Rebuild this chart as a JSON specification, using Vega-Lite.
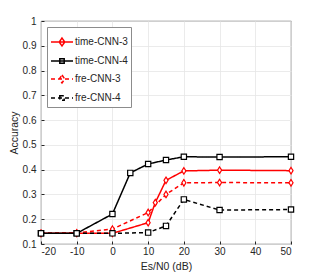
{
  "$schema": "https://vega.github.io/schema/vega-lite/v6.json",
  "width": 250,
  "height": 223,
  "autosize": "none",
  "padding": {"left": 41, "top": 21, "right": 30, "bottom": 32},
  "background": "white",
  "config": {
    "font": "Liberation Sans",
    "view": {"stroke": "#262626", "strokeWidth": 0.8},
    "axis": {
      "grid": true, "gridColor": "#e6e6e6", "gridWidth": 0.8,
      "domain": false, "tickColor": "#262626", "tickSize": -3,
      "labelColor": "#262626", "labelFontSize": 10, "titleColor": "#262626",
      "titleFontSize": 10.5, "titleFontWeight": "normal"
    }
  },
  "data": {"values": [
    {"snr": -20, "acc": 0.143, "series": "time-CNN-3", "net": 3},
    {"snr": -10, "acc": 0.143, "series": "time-CNN-3", "net": 3},
    {"snr": 0, "acc": 0.143, "series": "time-CNN-3", "net": 3},
    {"snr": 10, "acc": 0.186, "series": "time-CNN-3", "net": 3},
    {"snr": 12, "acc": 0.267, "series": "time-CNN-3", "net": 3},
    {"snr": 15, "acc": 0.357, "series": "time-CNN-3", "net": 3},
    {"snr": 20, "acc": 0.395, "series": "time-CNN-3", "net": 3},
    {"snr": 30, "acc": 0.398, "series": "time-CNN-3", "net": 3},
    {"snr": 50, "acc": 0.396, "series": "time-CNN-3", "net": 3},
    {"snr": -20, "acc": 0.143, "series": "time-CNN-4", "net": 4},
    {"snr": -10, "acc": 0.143, "series": "time-CNN-4", "net": 4},
    {"snr": 0, "acc": 0.221, "series": "time-CNN-4", "net": 4},
    {"snr": 5, "acc": 0.387, "series": "time-CNN-4", "net": 4},
    {"snr": 10, "acc": 0.423, "series": "time-CNN-4", "net": 4},
    {"snr": 15, "acc": 0.439, "series": "time-CNN-4", "net": 4},
    {"snr": 20, "acc": 0.452, "series": "time-CNN-4", "net": 4},
    {"snr": 30, "acc": 0.451, "series": "time-CNN-4", "net": 4},
    {"snr": 50, "acc": 0.452, "series": "time-CNN-4", "net": 4},
    {"snr": -20, "acc": 0.143, "series": "fre-CNN-3", "net": 3},
    {"snr": -10, "acc": 0.145, "series": "fre-CNN-3", "net": 3},
    {"snr": 0, "acc": 0.160, "series": "fre-CNN-3", "net": 3},
    {"snr": 10, "acc": 0.227, "series": "fre-CNN-3", "net": 3},
    {"snr": 15, "acc": 0.300, "series": "fre-CNN-3", "net": 3},
    {"snr": 20, "acc": 0.347, "series": "fre-CNN-3", "net": 3},
    {"snr": 30, "acc": 0.348, "series": "fre-CNN-3", "net": 3},
    {"snr": 50, "acc": 0.347, "series": "fre-CNN-3", "net": 3},
    {"snr": -20, "acc": 0.143, "series": "fre-CNN-4", "net": 4},
    {"snr": -10, "acc": 0.143, "series": "fre-CNN-4", "net": 4},
    {"snr": 0, "acc": 0.143, "series": "fre-CNN-4", "net": 4},
    {"snr": 10, "acc": 0.146, "series": "fre-CNN-4", "net": 4},
    {"snr": 15, "acc": 0.173, "series": "fre-CNN-4", "net": 4},
    {"snr": 20, "acc": 0.280, "series": "fre-CNN-4", "net": 4},
    {"snr": 30, "acc": 0.237, "series": "fre-CNN-4", "net": 4},
    {"snr": 50, "acc": 0.239, "series": "fre-CNN-4", "net": 4}
  ]},
  "encoding": {
    "x": {"field": "snr", "type": "quantitative",
      "scale": {"domain": [-20, 50], "nice": false},
      "axis": {"values": [-20, -10, 0, 10, 20, 30, 40, 50], "labelExpr": "replace(datum.label, '\u2212', '-')", "title": "Es/N0 (dB)", "labelPadding": 5, "titlePadding": 5}},
    "y": {"field": "acc", "type": "quantitative",
      "scale": {"domain": [0.1, 1], "nice": false, "zero": false},
      "axis": {"values": [0.1, 0.2, 0.3, 0.4, 0.5, 0.6, 0.7, 0.8, 0.9, 1], "format": ".1~f", "title": "Accuracy", "labelPadding": 8, "titlePadding": 3}},
    "color": {"field": "series", "type": "nominal",
      "scale": {"domain": ["time-CNN-3", "time-CNN-4", "fre-CNN-3", "fre-CNN-4"], "range": ["#ff0000", "#000000", "#ff0000", "#000000"]},
      "legend": {
        "title": null, "orient": "none", "legendX": 6, "legendY": 6,
        "fillColor": "white", "strokeColor": "#8c8c8c", "padding": 3,
        "labelFontSize": 10, "labelColor": "#262626", "labelOffset": 1,
        "rowPadding": -7.4, "symbolSize": 484, "symbolStrokeWidth": 1.5,
        "encode": {"symbols": {"update": {
          "shape": {"signal": "indexof(['time-CNN-3','fre-CNN-3'], datum.value) >= 0 ? 'M-1,0H1M0,-0.36L0.25,0L0,0.36L-0.25,0Z' : 'M-1,0H1M-0.2,-0.2H0.2V0.2H-0.2Z'"},
          "size": {"value": 484},
          "fill": {"value": "transparent"}
        }}}
      }},
    "strokeDash": {"field": "series", "type": "nominal",
      "scale": {"domain": ["time-CNN-3", "time-CNN-4", "fre-CNN-3", "fre-CNN-4"], "range": [[1, 0], [1, 0], [4, 3], [4, 3]]}}
  },
  "layer": [
    {"mark": {"type": "line", "strokeWidth": 1.5}},
    {"transform": [{"filter": "datum.net == 3"}],
      "mark": {"type": "point", "shape": "M0,-1.2L0.75,0L0,1.2L-0.75,0Z", "filled": false, "fill": "white", "fillOpacity": 1, "strokeWidth": 1.2, "size": 30, "opacity": 1},
      "encoding": {"strokeDash": {"value": [1, 0]}}},
    {"transform": [{"filter": "datum.net == 4"}],
      "mark": {"type": "point", "shape": "square", "filled": false, "fill": "white", "fillOpacity": 1, "strokeWidth": 1.2, "size": 28, "opacity": 1},
      "encoding": {"strokeDash": {"value": [1, 0]}}}
  ]
}
